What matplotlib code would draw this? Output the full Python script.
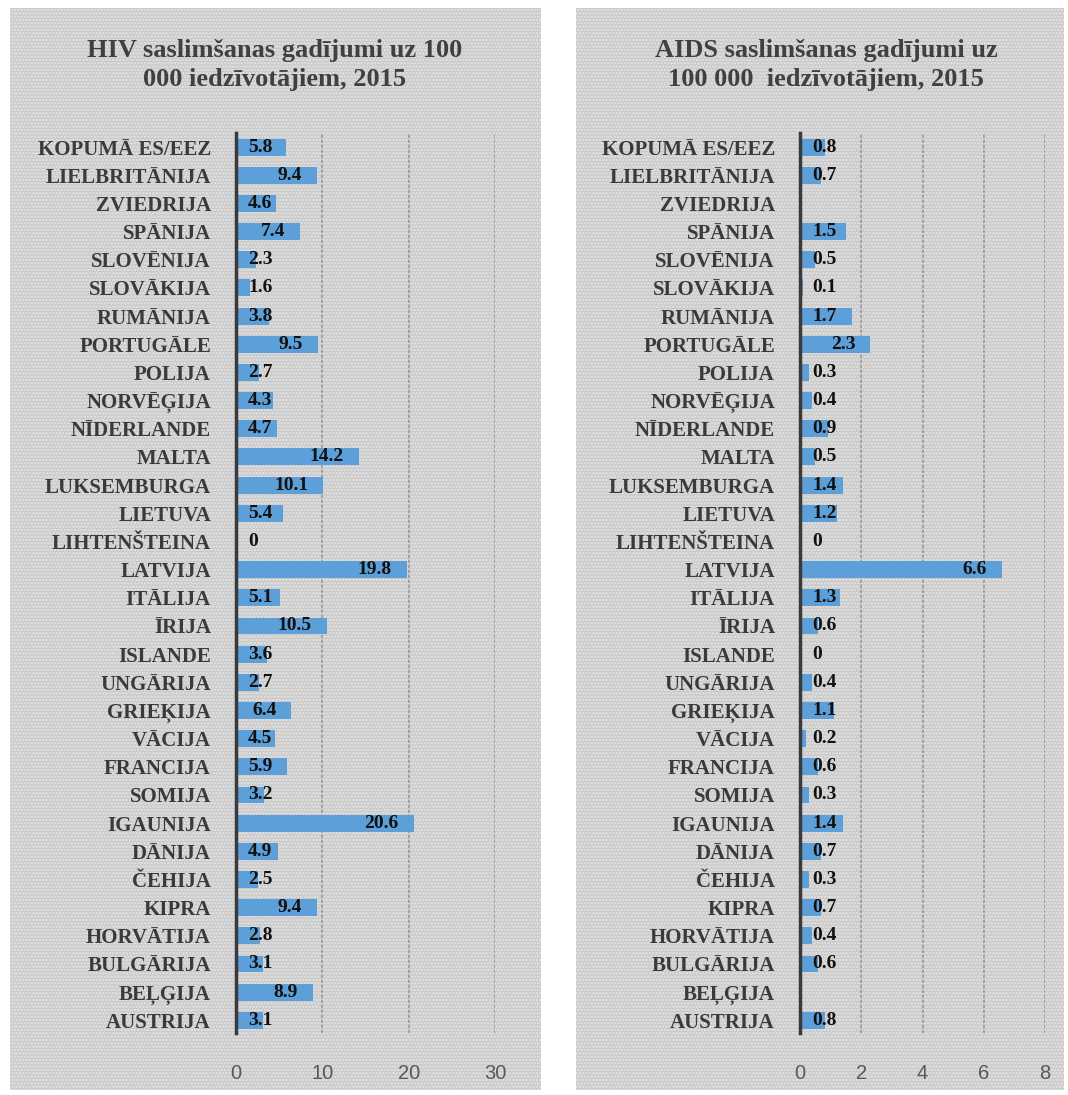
import matplotlib
matplotlib.use("Agg")
import matplotlib.pyplot as plt
from matplotlib.patches import Rectangle

countries = ["KOPUMĀ ES/EEZ", "LIELBRITĀNIJA", "ZVIEDRIJA", "SPĀNIJA", "SLOVĒNIJA",
             "SLOVĀKIJA", "RUMĀNIJA", "PORTUGĀLE", "POLIJA", "NORVĒĢIJA",
             "NĪDERLANDE", "MALTA", "LUKSEMBURGA", "LIETUVA", "LIHTENŠTEINA",
             "LATVIJA", "ITĀLIJA", "ĪRIJA", "ISLANDE", "UNGĀRIJA", "GRIEĶIJA",
             "VĀCIJA", "FRANCIJA", "SOMIJA", "IGAUNIJA", "DĀNIJA", "ČEHIJA",
             "KIPRA", "HORVĀTIJA", "BULGĀRIJA", "BEĻĢIJA", "AUSTRIJA"]

hiv = [5.8, 9.4, 4.6, 7.4, 2.3, 1.6, 3.8, 9.5, 2.7, 4.3, 4.7, 14.2, 10.1, 5.4, 0,
       19.8, 5.1, 10.5, 3.6, 2.7, 6.4, 4.5, 5.9, 3.2, 20.6, 4.9, 2.5, 9.4, 2.8,
       3.1, 8.9, 3.1]

# None = no data (no bar, no label)
aids = [0.8, 0.7, None, 1.5, 0.5, 0.1, 1.7, 2.3, 0.3, 0.4, 0.9, 0.5, 1.4, 1.2, 0,
        6.6, 1.3, 0.6, 0, 0.4, 1.1, 0.2, 0.6, 0.3, 1.4, 0.7, 0.3, 0.7, 0.4, 0.6,
        None, 0.8]

hiv_title = "HIV saslimšanas gadījumi uz 100\n000 iedzīvotājiem, 2015"
aids_title = "AIDS saslimšanas gadījumi uz\n100 000  iedzīvotājiem, 2015"
hiv_ticks = [0, 10, 20, 30]
aids_ticks = [0, 2, 4, 6, 8]

W, H = 1068, 1095
plt.rcParams['hatch.linewidth'] = 1.2
fig = plt.figure(figsize=(W / 100, H / 100), dpi=100)

bar_color = '#5d9fd8'
serif = 'Liberation Serif'


def panel(x0, x1, y0=8, y1=1090):
    r = Rectangle((x0 / W, 1 - y1 / H), (x1 - x0) / W, (y1 - y0) / H,
                  transform=fig.transFigure, facecolor='#c9c9c9',
                  edgecolor='#e6e6e6', hatch='.....', linewidth=0, zorder=-10)
    fig.patches.append(r)


def draw(ax, values, ticks, title, title_x):
    n = len(values)
    ypos = list(range(n))
    vals = [0 if v is None else v for v in values]
    ax.barh(ypos, vals, height=0.6, color=bar_color, zorder=3)
    ax.set_xlim(ticks[0], ticks[-1])
    ax.set_ylim(n - 0.55, -0.5)
    ax.set_xticks(ticks)
    ax.set_xticklabels([str(t) for t in ticks], fontsize=14.5,
                       family='Liberation Sans', color='#595959')
    ax.tick_params(axis='x', length=0, pad=22)
    ax.set_yticks(ypos)
    ax.set_yticklabels(countries, fontsize=15, family=serif,
                       fontweight='bold', color='#3a3a3a')
    ax.tick_params(axis='y', length=0, pad=18)
    ax.set_facecolor('none')
    for s in ['top', 'right', 'bottom']:
        ax.spines[s].set_visible(False)
    ax.spines['left'].set_linewidth(2.5)
    ax.spines['left'].set_color('#3a3a3a')
    ax.spines['left'].set_zorder(5)
    ax.grid(axis='x', color='#999999', linewidth=1.2, linestyle=(0, (2, 1)), zorder=1)
    ax.set_axisbelow(True)

    # data labels: "inside end", pushed to the base when the bar is too short
    fig.canvas.draw()
    renderer = fig.canvas.get_renderer()
    px_per_unit = ax.transData.transform((1, 0))[0] - ax.transData.transform((0, 0))[0]
    for i, v in enumerate(values):
        if v is None:
            continue
        lab = f"{v:g}"
        t = ax.annotate(lab, (0, i), xytext=(0, 0), textcoords='offset pixels',
                        ha='left', va='center', fontsize=14, family=serif,
                        fontweight='bold', color='#111111', zorder=6)
        tw = t.get_window_extent(renderer).width
        xoff = max(v * px_per_unit - 15 - tw, 12)
        t.xyann = (xoff, 0)

    fig.text(title_x / W, 1 - 65 / H, title, ha='center', va='center',
             fontsize=19, family=serif, fontweight='bold', color='#404040',
             linespacing=1.3)


panel(10, 541)
panel(576, 1064)

top, bottom = 133, 1033
ax1 = fig.add_axes([236 / W, 1 - bottom / H, (495 - 236) / W, (bottom - top) / H])
ax2 = fig.add_axes([800 / W, 1 - bottom / H, (1045 - 800) / W, (bottom - top) / H])

draw(ax1, hiv, hiv_ticks, hiv_title, 275)
draw(ax2, aids, aids_ticks, aids_title, 826)

fig.savefig('out.png', dpi=100)
